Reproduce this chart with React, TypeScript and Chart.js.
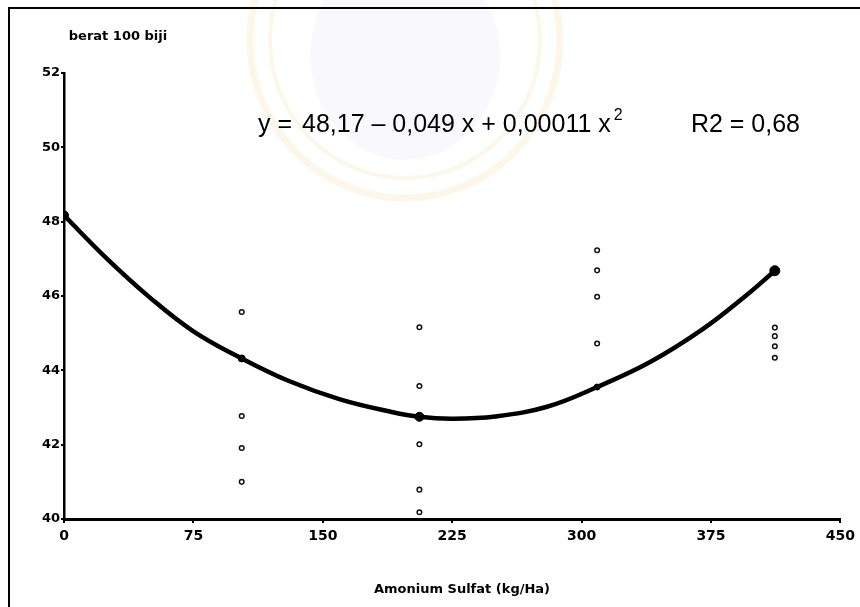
import React, { useEffect, useRef } from "react";
import { Chart, registerables } from "chart.js";

Chart.register(...registerables);

// Axis ticks
const xTicks = [0, 75, 150, 225, 300, 375, 450];
const yTicks = [40, 42, 44, 46, 48, 50, 52];

// Individual observations of seed weight (berat 100 biji) per ammonium sulfate rate
const obsDose = [103, 103, 103, 103, 206, 206, 206, 206, 206, 309, 309, 309, 309, 412, 412, 412, 412];
const obsWeight = [45.57, 42.77, 41.91, 41.0, 45.16, 43.58, 42.01, 40.79, 40.18, 47.23, 46.69, 45.98, 44.72, 45.15, 44.92, 44.65, 44.34];

// Treatment means lying on the fitted curve
const meanDose = [0, 103, 206, 309, 412];
const meanWeight = [48.17, 44.32, 42.75, 43.55, 46.68];
const meanRadius = [4.5, 3.5, 4.5, 3, 5];

// Fitted quadratic response curve
const curveDose = [0, 25, 50, 75, 103, 130, 160, 190, 206, 225, 250, 280, 309, 340, 370, 395, 412];
const curveWeight = [48.17, 47.0, 45.95, 45.05, 44.32, 43.72, 43.22, 42.88, 42.75, 42.7, 42.76, 43.02, 43.55, 44.23, 45.1, 46.0, 46.68];

const yCaption = "berat 100 biji";
const xCaption = "Amonium Sulfat (kg/Ha)";
const eqLead = "y = ";
const eqBody = "48,17 \u2013 0,049 x + 0,00011 x";
const eqPower = "2";
const eqFit = "R2 = 0,68";

const W = 860;
const H = 607;
const BOLD = "bold 13px 'DejaVu Sans'";
const EQ_FONT = "25px 'Liberation Sans'";

const decorations = {
  id: "decorations",
  beforeDraw(chart: any) {
    const ctx = chart.ctx;
    ctx.save();
    ctx.fillStyle = "#ffffff";
    ctx.fillRect(0, 0, W, H);

    // faint emblem in the page background
    ctx.strokeStyle = "rgba(240, 220, 150, 0.22)";
    ctx.lineWidth = 7;
    ctx.beginPath();
    ctx.ellipse(405, 40, 155, 158, 0, 0, Math.PI * 2);
    ctx.stroke();
    ctx.lineWidth = 4;
    ctx.beginPath();
    ctx.ellipse(405, 40, 135, 138, 0, 0, Math.PI * 2);
    ctx.stroke();
    ctx.fillStyle = "rgba(205, 205, 240, 0.12)";
    ctx.beginPath();
    ctx.ellipse(405, 55, 95, 105, 0, 0, Math.PI * 2);
    ctx.fill();

    // page frame
    ctx.strokeStyle = "#000";
    ctx.lineWidth = 2;
    ctx.beginPath();
    ctx.moveTo(9, H);
    ctx.lineTo(9, 8);
    ctx.lineTo(W, 8);
    ctx.stroke();
    ctx.restore();
  },
  afterDraw(chart: any) {
    const ctx = chart.ctx;
    ctx.save();
    ctx.fillStyle = "#000";
    ctx.textBaseline = "middle";
    ctx.textAlign = "center";
    ctx.font = BOLD;
    ctx.fillText(yCaption, 118, 37);
    ctx.fillText(xCaption, 462, 590);

    // regression equation
    ctx.textAlign = "left";
    ctx.textBaseline = "alphabetic";
    ctx.font = EQ_FONT;
    const base = 132;
    ctx.fillText(eqLead, 258, base);
    ctx.fillText(eqBody, 302, base);
    const end = 302 + ctx.measureText(eqBody).width;
    ctx.textAlign = "right";
    ctx.fillText(eqFit, 800, base);
    ctx.textAlign = "left";
    ctx.font = "16px 'Liberation Sans'";
    ctx.fillText(eqPower, end + 3, base - 12);
    ctx.restore();
  },
};

export default function App() {
  const ref = useRef<HTMLCanvasElement | null>(null);

  useEffect(() => {
    if (!ref.current) return;
    const chart = new Chart(ref.current, {
      type: "scatter",
      data: {
        datasets: [
          {
            type: "line",
            label: "kurva",
            data: curveDose.map((x, i) => ({ x, y: curveWeight[i] })),
            borderColor: "#000",
            borderWidth: 4.5,
            pointRadius: 0,
            tension: 0.4,
            fill: false,
          } as any,
          {
            label: "rataan",
            data: meanDose.map((x, i) => ({ x, y: meanWeight[i] })),
            pointRadius: meanRadius,
            backgroundColor: "#000",
            borderColor: "#000",
          },
          {
            label: "pengamatan",
            data: obsDose.map((x, i) => ({ x, y: obsWeight[i] })),
            pointRadius: 2.3,
            borderWidth: 1.5,
            borderColor: "#111",
            backgroundColor: "#fff",
          },
        ],
      },
      options: {
        responsive: false,
        animation: false,
        devicePixelRatio: 1,
        layout: { padding: { top: 73, right: 17, left: 0, bottom: 0 } },
        plugins: {
          legend: { display: false },
          tooltip: { enabled: false },
          title: { display: false },
        },
        scales: {
          x: {
            type: "linear",
            min: 0,
            max: 450,
            afterBuildTicks: (s: any) => {
              s.ticks = xTicks.map((v) => ({ value: v }));
            },
            afterFit: (s: any) => {
              s.height = 88;
            },
            ticks: {
              color: "#000",
              font: { family: "'DejaVu Sans'", size: 14, weight: "bold" },
              padding: 5,
              maxRotation: 0,
              autoSkip: false,
            },
            grid: { drawOnChartArea: false, drawTicks: true, tickLength: 4, color: "#000", lineWidth: 2 },
            border: { color: "#000", width: 3 },
          },
          y: {
            type: "linear",
            min: 40,
            max: 52,
            afterBuildTicks: (s: any) => {
              s.ticks = yTicks.map((v) => ({ value: v }));
            },
            afterFit: (s: any) => {
              s.width = 64;
            },
            ticks: {
              color: "#000",
              font: { family: "'DejaVu Sans'", size: 13, weight: "bold" },
              padding: 1,
            },
            grid: { drawOnChartArea: false, drawTicks: true, tickLength: 3, color: "#000", lineWidth: 2 },
            border: { color: "#000", width: 2.5 },
          },
        },
      },
      plugins: [decorations],
    });
    return () => chart.destroy();
  }, []);

  return (
    <div style={{ position: "absolute", left: 0, top: 0, width: W, height: H, background: "#fff" }}>
      <canvas ref={ref} width={W} height={H} style={{ display: "block" }} />
    </div>
  );
}
